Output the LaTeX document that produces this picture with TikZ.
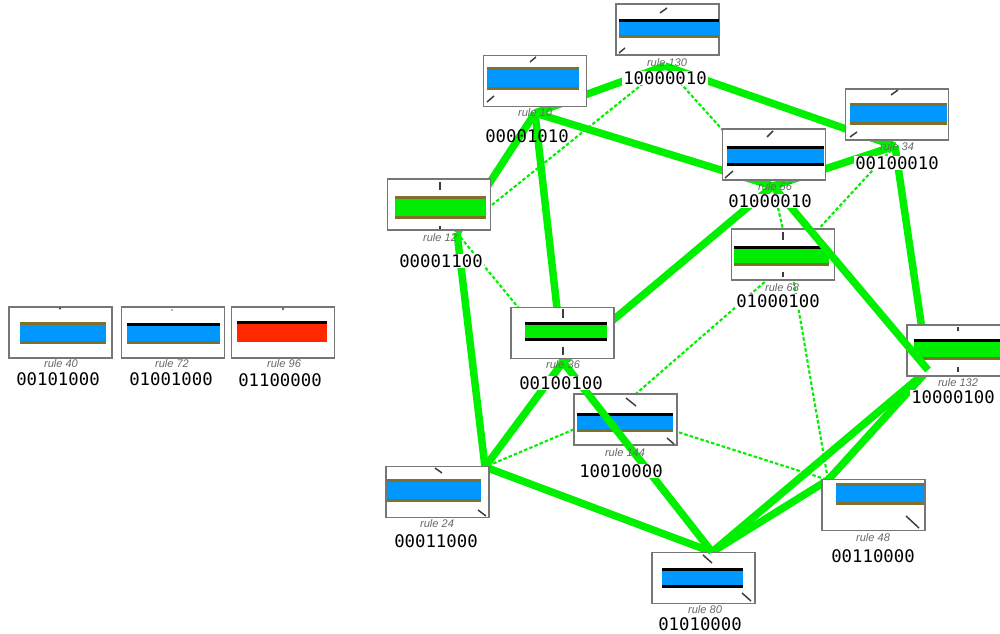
\documentclass[tikz,border=0pt]{standalone}
\usepackage{fontspec}
\newfontfamily\binfont{DejaVu Sans Mono}
\newfontfamily\labfont{Liberation Sans}

\definecolor{linkgreen}{RGB}{0,240,0}
\definecolor{cagreen}{RGB}{0,236,0}
\definecolor{cablue}{RGB}{0,152,255}
\definecolor{cared}{RGB}{255,40,0}
\definecolor{olive}{RGB}{128,112,42}
\definecolor{boxgray}{RGB}{118,118,118}
\definecolor{labgray}{RGB}{105,105,105}
\definecolor{markgray}{RGB}{60,60,60}

\tikzset{
  strong/.style={draw=linkgreen, line width=5.6pt},
  weak/.style={draw=linkgreen, line width=1.6pt, dash pattern=on 2.6pt off 1.6pt},
  cabox/.style={draw=boxgray, line width=1.1pt, fill=white,
    minimum width=77.25pt, minimum height=38.25pt, inner sep=0pt},
  rulelab/.style={font=\labfont\itshape\fontsize{8.3}{9}\selectfont, text=labgray, inner sep=0pt},
  binlab/.style={font=\binfont\fontsize{13}{14}\selectfont, fill=white, inner sep=0.6pt},
  glyphmark/.style={draw=markgray, line width=1.1pt},
}

% bar inside a rule box: x1 y1 x2 y2, fill, top stripe, bottom stripe
\newcommand\cabar[7]{%
  \fill[#5] (#1,#2) rectangle (#3,#4);
  \fill[#6] (#1,#2) rectangle (#3,#2+2.6);
  \fill[#7] (#1,#4-2.6) rectangle (#3,#4);
}

\begin{document}
\begin{tikzpicture}[x=0.75pt,y=-0.75pt]
\useasboundingbox (0,0) rectangle (1000,634);
\clip (0,0) rectangle (1000,634);
\fill[white] (0,0) rectangle (1000,634);

% attachment points of the links
\coordinate (l130) at (665,66);
\coordinate (l10)  at (535,113);
\coordinate (l34)  at (895,146);
\coordinate (l66)  at (773,186);
\coordinate (l12)  at (457,233);
\coordinate (l68)  at (790,260);
\coordinate (l36)  at (563,362);
\coordinate (l132) at (928,370);
\coordinate (l144) at (615,412);
\coordinate (l24)  at (485,467);
\coordinate (l48)  at (828,480);
\coordinate (l80)  at (712,552);

% weak links
\draw[weak] (l130) -- (l12);
\draw[weak] (l130) -- (l66);
\draw[weak] (l12) -- (l36);
\draw[weak] (l34) -- (l68);
\draw[weak] (l66) -- (l68);
\draw[weak] (l68) -- (l144);
\draw[weak] (l68) -- (l48);
\draw[weak] (l144) -- (l48);
\draw[weak] (l144) -- (l24);

% strong links
\draw[strong] (l10) -- (l130);
\draw[strong] (l130) -- (l34);
\draw[strong] (l10) -- (l66);
\draw[strong] (l10) -- (l12);
\draw[strong] (l10) -- (l36);
\draw[strong] (l12) -- (l24);
\draw[strong] (l34) -- (l66);
\draw[strong] (l34) -- (l132);
\draw[strong] (l66) -- (l36);
\draw[strong] (l36) -- (l24);
\draw[strong] (l24) -- (l80);
\draw[strong] (l80) -- (l132);
\draw[strong] (l48) -- (l132);
\draw[strong] (l80) -- (l48);

% rule boxes
\node[cabox] (r40) at (60.5,332.5) {};
\cabar{20}{322}{106}{344}{cablue}{olive}{olive}
\fill[markgray] (60,308.5) circle (1.1);

\node[cabox] (r72) at (173,332.5) {};
\cabar{127}{323}{220}{344}{cablue}{black}{olive}
\fill[labgray] (172,310) circle (0.9);

\node[cabox] (r96) at (283,332.5) {};
\cabar{237}{321}{327}{342}{cared}{black}{cared}
\fill[markgray] (283,309) circle (1.1);

\node[cabox] (r130) at (667.5,29.5) {};
\cabar{619}{19}{719}{38}{cablue}{black}{olive}
\draw[glyphmark] (660,13) -- (667,8);
\draw[glyphmark] (619,53) -- (625,48);

\node[cabox] (r10) at (535,81) {};
\cabar{487}{67}{579}{90}{cablue}{olive}{olive}
\draw[glyphmark] (530,62) -- (536,57);
\draw[glyphmark] (487,102) -- (494,96);

\node[cabox] (r34) at (897,114.5) {};
\cabar{850}{103}{947}{125}{cablue}{olive}{olive}
\draw[glyphmark] (891,95) -- (898,90);
\draw[glyphmark] (850,137) -- (857,132);

\node[cabox] (r66) at (774,154.5) {};
\cabar{727}{146}{824}{166}{cablue}{black}{black}
\draw[glyphmark] (767,137) -- (773,131);
\draw[glyphmark] (725,178) -- (733,171);

\node[cabox] (r12) at (439,204.5) {};
\cabar{395}{196}{486}{219}{cagreen}{olive}{olive}
\draw[glyphmark] (440,182) -- (440,190);
\draw[glyphmark] (440,226) -- (440,229);

\node[cabox] (r68) at (783,254.5) {};
\cabar{734}{246}{829}{266}{cagreen}{black}{olive}
\draw[glyphmark] (783,232) -- (783,240);
\draw[glyphmark] (783,272) -- (783,277);

\node[cabox] (r36) at (562.5,333) {};
\cabar{525}{322}{607}{341}{cagreen}{black}{black}
\draw[glyphmark] (563,309) -- (563,318);
\draw[glyphmark] (563,347) -- (563,355);

\node[cabox] (r132) at (958.5,350.5) {};
\cabar{914}{339}{1001}{360}{cagreen}{black}{olive}
\draw[glyphmark] (958,327) -- (958,331);
\draw[glyphmark] (958,367) -- (958,372);

\node[cabox] (r144) at (625.5,419.5) {};
\cabar{577}{413}{673}{432}{cablue}{black}{olive}
\draw[glyphmark] (626,398) -- (636,406);
\draw[glyphmark] (667,438) -- (674,444);

\node[cabox] (r24) at (437.5,492) {};
\cabar{387}{479}{481}{502}{cablue}{olive}{olive}
\draw[glyphmark] (435,468) -- (442,473);
\draw[glyphmark] (478,510) -- (486,516);

\node[cabox] (r48) at (873.5,505) {};
\cabar{836}{483}{924}{505}{cablue}{olive}{olive}
\draw[glyphmark] (906,516) -- (919,528);

\node[cabox] (r80) at (703.5,578) {};
\cabar{662}{568}{743}{588}{cablue}{black}{black}
\draw[glyphmark] (703,555) -- (712,563);
\draw[glyphmark] (742,593) -- (751,601);

% strong links running across other boxes
\draw[strong] (l66) -- (l132);
\draw[strong] (l36) -- (l80);

% rule names
\node[rulelab] (t40)  at (61,364)  {rule 40};
\node[rulelab] (t72)  at (172,364) {rule 72};
\node[rulelab] (t96)  at (284,364) {rule 96};
\node[rulelab] (t130) at (667,63)  {rule 130};
\node[rulelab] (t10)  at (535,113) {rule 10};
\node[rulelab] (t34)  at (897,147) {rule 34};
\node[rulelab] (t66)  at (775,187) {rule 66};
\node[rulelab] (t12)  at (440,238) {rule 12};
\node[rulelab] (t68)  at (782,288) {rule 68};
\node[rulelab] (t36)  at (563,365) {rule 36};
\node[rulelab] (t132) at (958,383) {rule 132};
\node[rulelab] (t144) at (625,453) {rule 144};
\node[rulelab] (t24)  at (437,524) {rule 24};
\node[rulelab] (t48)  at (873,538) {rule 48};
\node[rulelab] (t80)  at (705,610) {rule 80};

% rule tables
\node[binlab] (b40)  at (58,379)  {00101000};
\node[binlab] (b72)  at (171,379) {01001000};
\node[binlab] (b96)  at (280,380) {01100000};
\node[binlab] (b130) at (665,78)  {10000010};
\node[binlab, fill=none] (b10) at (527,136) {00001010};
\node[binlab] (b34)  at (897,163) {00100010};
\node[binlab] (b66)  at (770,201) {01000010};
\node[binlab] (b12)  at (441,261) {00001100};
\node[binlab] (b68)  at (778,301) {01000100};
\node[binlab] (b36)  at (561,383) {00100100};
\node[binlab] (b132) at (953,397) {10000100};
\node[binlab] (b144) at (621,471) {10010000};
\node[binlab] (b24)  at (436,541) {00011000};
\node[binlab] (b48)  at (873,556) {00110000};
\node[binlab] (b80)  at (700,624) {01010000};
\end{tikzpicture}
\end{document}
